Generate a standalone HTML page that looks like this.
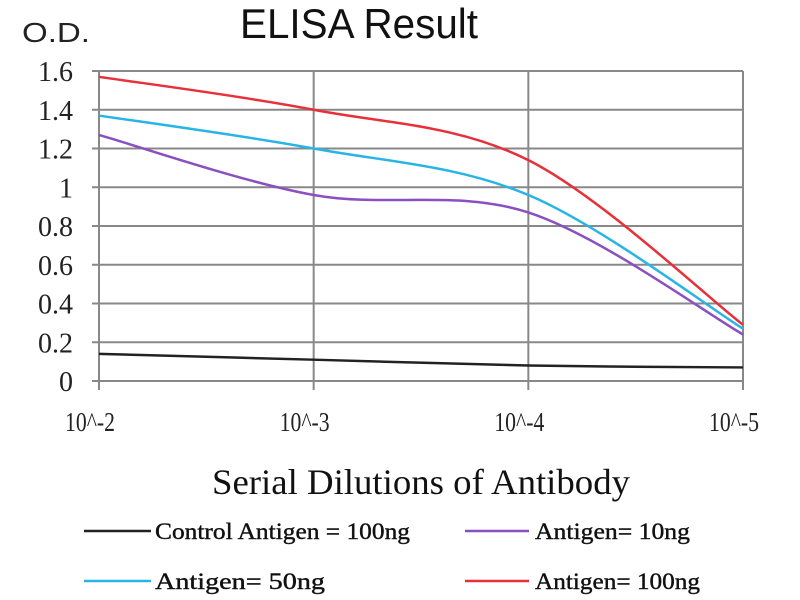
<!DOCTYPE html>
<html><head><meta charset="utf-8"><style>
html,body{margin:0;padding:0;background:#fff;}
svg{display:block;}
</style></head><body>
<svg id="chart" width="800" height="600" viewBox="0 0 800 600" xmlns="http://www.w3.org/2000/svg">
<text x="22" y="42" font-family="Liberation Sans, sans-serif" font-size="28" fill="#222" textLength="68" lengthAdjust="spacingAndGlyphs">O.D.</text>
<text x="240" y="38" font-family="Liberation Sans, sans-serif" font-size="42" fill="#111" textLength="238" lengthAdjust="spacingAndGlyphs">ELISA Result</text>
<g id="grid"></g>
<g id="yticks"></g>
<g id="xticks"></g>
<g id="series"></g>
<text x="212" y="494" font-family="Liberation Serif, serif" font-size="36" fill="#111" textLength="418" lengthAdjust="spacingAndGlyphs">Serial Dilutions of Antibody</text>
<g font-family="Liberation Serif, serif" font-size="23" fill="#111" stroke="#111" stroke-width="0.4">
 <g><line x1="84" y1="531" x2="151" y2="531" stroke="#222" stroke-width="2.5"/><text x="155" y="539" textLength="255" lengthAdjust="spacingAndGlyphs">Control Antigen = 100ng</text></g>
 <g><line x1="465" y1="531" x2="529" y2="531" stroke="#8a4fc0" stroke-width="2.5"/><text x="535" y="539" textLength="155" lengthAdjust="spacingAndGlyphs">Antigen= 10ng</text></g>
 <g><line x1="84" y1="581" x2="151" y2="581" stroke="#29b4e6" stroke-width="2.5"/><text x="155" y="589" textLength="170" lengthAdjust="spacingAndGlyphs">Antigen= 50ng</text></g>
 <g><line x1="465" y1="581" x2="529" y2="581" stroke="#e8303a" stroke-width="2.5"/><text x="535" y="589" textLength="165" lengthAdjust="spacingAndGlyphs">Antigen= 100ng</text></g>
</g>
</svg>
<script>
const categories = ["10^-2","10^-3","10^-4","10^-5"];
const yTicks = [0,0.2,0.4,0.6,0.8,1,1.2,1.4,1.6];
const yTickLabels = ["0","0.2","0.4","0.6","0.8","1","1.2","1.4","1.6"];
const control100 = [0.14,0.11,0.08,0.07];
const antigen10 = [1.27,0.96,0.87,0.24];
const antigen50 = [1.37,1.20,0.96,0.27];
const antigen100 = [1.57,1.40,1.14,0.29];

const NS="http://www.w3.org/2000/svg";
const X0=99,X1=743,Y0=381,Y1=71,YMAX=1.6;
function xs(i){return X0+(X1-X0)*i/(categories.length-1);}
function ys(v){return Y0-(Y0-Y1)*v/YMAX;}
function mk(tag,attrs,parent){const e=document.createElementNS(NS,tag);for(const k in attrs)e.setAttribute(k,attrs[k]);parent.appendChild(e);return e;}
const grid=document.getElementById('grid'),yt=document.getElementById('yticks'),xt=document.getElementById('xticks'),ser=document.getElementById('series');
yTicks.forEach((v,i)=>{
 const l=mk('line',{x1:92,x2:X1,y1:ys(v),y2:ys(v),stroke:'#888','stroke-width':2},grid);
 
 
 const t=mk('text',{x:73,y:ys(v)+10,'text-anchor':'end','font-family':'Liberation Serif, serif','font-size':28,fill:'#222'},yt);
 t.textContent=yTickLabels[i];
 
 
});
categories.forEach((c,i)=>{
 const l=mk('line',{x1:xs(i),x2:xs(i),y1:Y1,y2:390,stroke:'#888','stroke-width':2},grid);
 
 
 const t=mk('text',{x:xs(i)-34,y:431,'font-family':'Liberation Serif, serif','font-size':27,fill:'#222',textLength:50,lengthAdjust:'spacingAndGlyphs'},xt);
 t.textContent=c;
 
 
});
function path(vals){
 const p=vals.map((v,i)=>[xs(i),ys(v)]);
 let d='M'+p[0][0]+','+p[0][1];
 for(let i=0;i<p.length-1;i++){
  const a=p[Math.max(i-1,0)],b=p[i],c=p[i+1],e=p[Math.min(i+2,p.length-1)];
  const t=1/6;
  d+=' C'+(b[0]+(c[0]-a[0])*t)+','+(b[1]+(c[1]-a[1])*t)+' '+(c[0]-(e[0]-b[0])*t)+','+(c[1]-(e[1]-b[1])*t)+' '+c[0]+','+c[1];
 }
 return d;
}
[[control100,'#222','series-control-100ng'],[antigen10,'#8a4fc0','series-antigen-10ng'],[antigen50,'#29b4e6','series-antigen-50ng'],[antigen100,'#e8303a','series-antigen-100ng']].forEach(s=>{
 const e=mk('path',{d:path(s[0]),fill:'none',stroke:s[1],'stroke-width':2.5},ser);
 
 
});
</script>
</body></html>
